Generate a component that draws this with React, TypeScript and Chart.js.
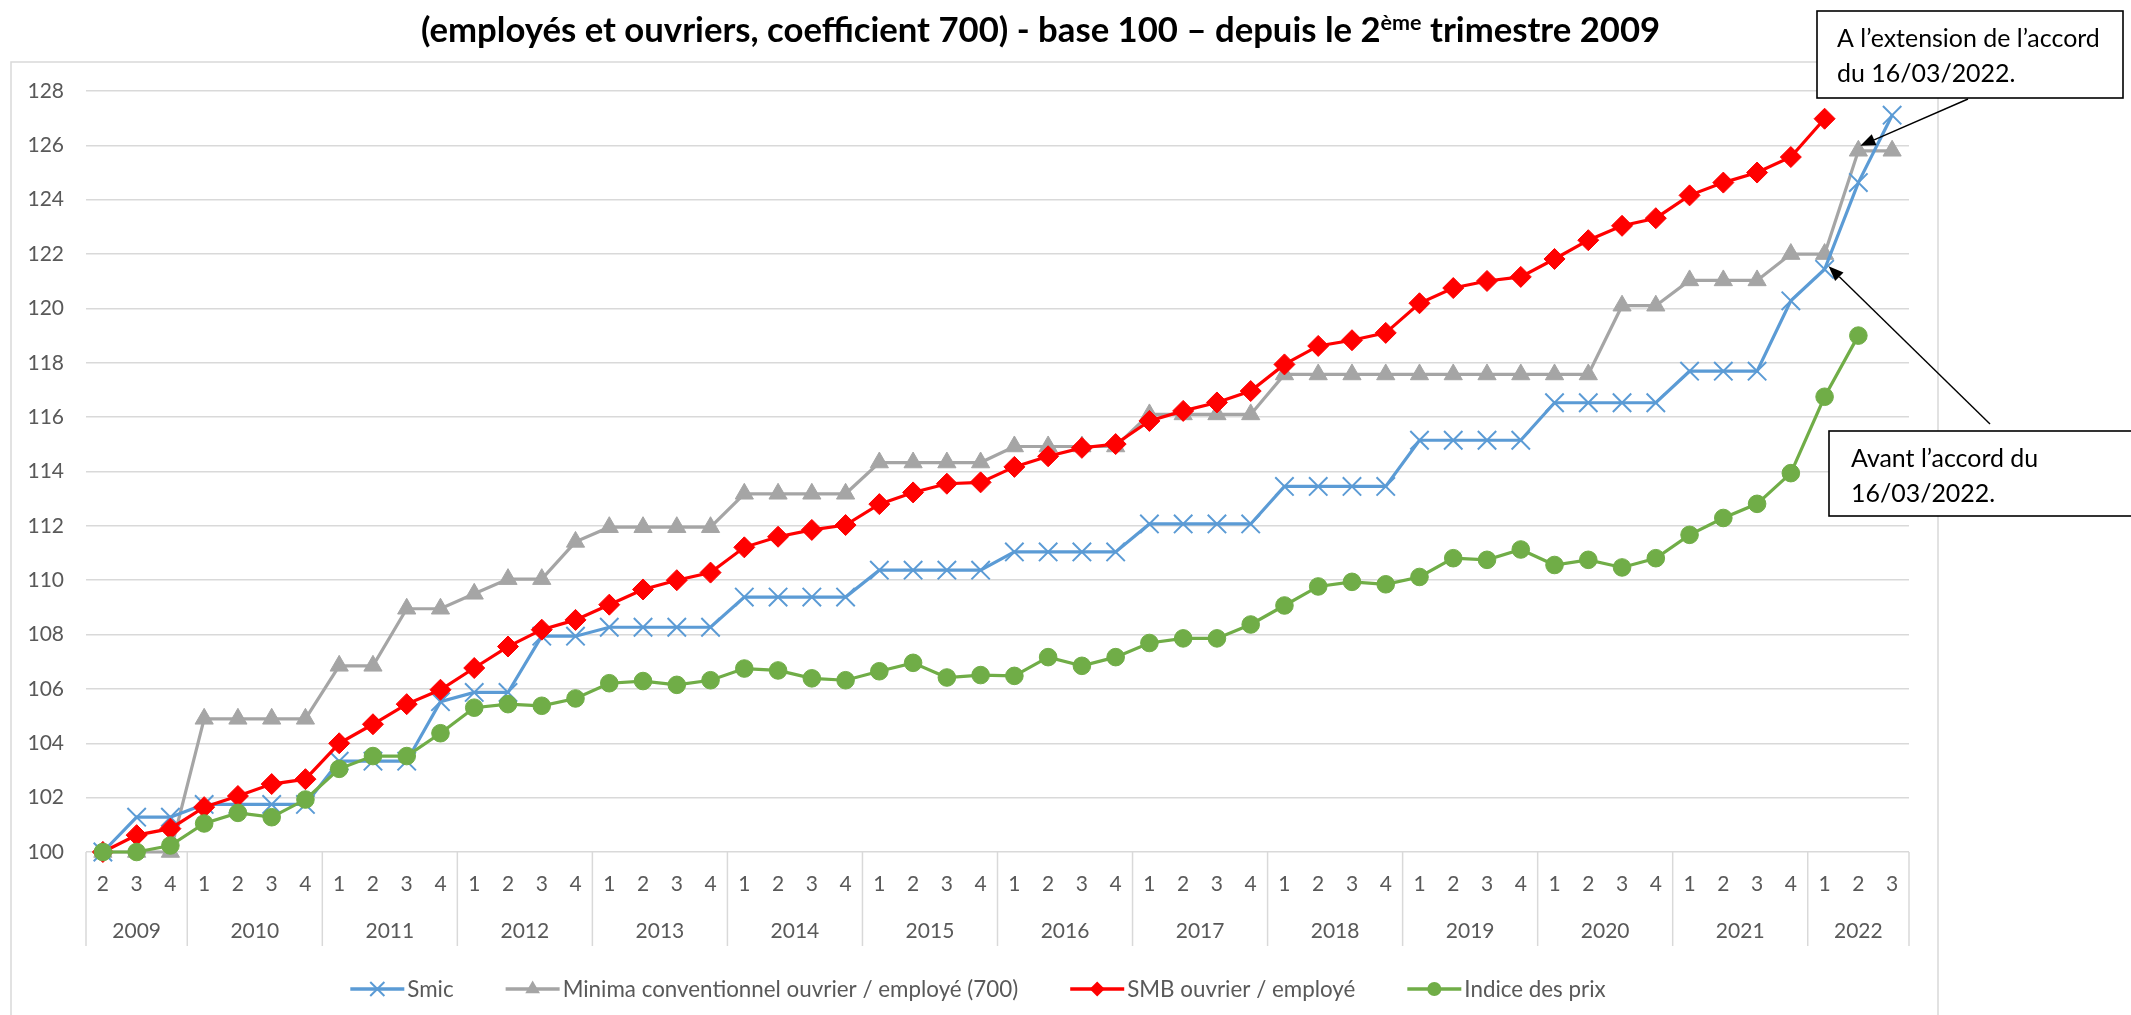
import React, { useEffect, useRef } from 'react';
import { Chart, registerables } from 'chart.js';

Chart.register(...registerables);

// ---------- DATA ----------
const quarterLabels = [
  '2', '3', '4',
  '1', '2', '3', '4',
  '1', '2', '3', '4',
  '1', '2', '3', '4',
  '1', '2', '3', '4',
  '1', '2', '3', '4',
  '1', '2', '3', '4',
  '1', '2', '3', '4',
  '1', '2', '3', '4',
  '1', '2', '3', '4',
  '1', '2', '3', '4',
  '1', '2', '3', '4',
  '1', '2', '3', '4',
  '1', '2', '3',
];
const yearLabels = ['2009', '2010', '2011', '2012', '2013', '2014', '2015', '2016', '2017', '2018', '2019', '2020', '2021', '2022'];
const quartersPerYear = [3, 4, 4, 4, 4, 4, 4, 4, 4, 4, 4, 4, 4, 3];

const smic = [
  100, 101.28, 101.28,
  101.75, 101.75, 101.75, 101.75,
  103.34, 103.34, 103.34, 105.53,
  105.87, 105.87, 107.94, 107.94,
  108.27, 108.27, 108.27, 108.27,
  109.38, 109.38, 109.38, 109.38,
  110.37, 110.37, 110.37, 110.37,
  111.04, 111.04, 111.04, 111.04,
  112.07, 112.07, 112.07, 112.07,
  113.45, 113.45, 113.45, 113.45,
  115.15, 115.15, 115.15, 115.15,
  116.53, 116.53, 116.53, 116.53,
  117.69, 117.69, 117.69, 120.28,
  121.44, 124.63, 127.11,
];
const minima = [
  100, 100, 100,
  104.9, 104.9, 104.9, 104.9,
  106.85, 106.85, 108.95, 108.95,
  109.5, 110.04, 110.04, 111.41,
  111.95, 111.95, 111.95, 111.95,
  113.18, 113.18, 113.18, 113.18,
  114.33, 114.33, 114.33, 114.33,
  114.92, 114.92, 114.92, 114.92,
  116.1, 116.1, 116.1, 116.1,
  117.57, 117.57, 117.57, 117.57,
  117.57, 117.57, 117.57, 117.57,
  117.57, 117.57, 120.1, 120.1,
  121.03, 121.03, 121.03, 122.0,
  122.0, 125.8, 125.8,
];
const smb = [
  100, 100.62, 100.86,
  101.65, 102.06, 102.5, 102.68,
  104.0, 104.7, 105.44, 105.97,
  106.77, 107.56, 108.18, 108.54,
  109.1, 109.66, 110.0, 110.28,
  111.21, 111.6, 111.85, 112.03,
  112.8, 113.23, 113.55, 113.6,
  114.17, 114.56, 114.87, 115.01,
  115.86, 116.23, 116.54, 116.96,
  117.94, 118.62, 118.83, 119.1,
  120.19, 120.75, 121.01, 121.16,
  121.82, 122.51, 123.04, 123.32,
  124.16, 124.63, 125.0, 125.57,
  126.98, null, null,
];
const indicePrix = [
  100, 100.0, 100.24,
  101.05, 101.44, 101.28, 101.93,
  103.06, 103.53, 103.53, 104.37,
  105.31, 105.44, 105.38, 105.65,
  106.21, 106.29, 106.15, 106.32,
  106.75, 106.68, 106.39, 106.32,
  106.65, 106.96, 106.42, 106.51,
  106.48, 107.17, 106.85, 107.17,
  107.69, 107.86, 107.86, 108.37,
  109.07, 109.77, 109.94, 109.85,
  110.12, 110.81, 110.75, 111.13,
  110.56, 110.75, 110.47, 110.81,
  111.67, 112.29, 112.81, 113.94,
  116.75, 119.0, null,
];

const seriesNames = ['Smic', 'Minima conventionnel ouvrier / employé (700)', 'SMB ouvrier / employé', 'Indice des prix'];
const seriesColors = ['#5B9BD5', '#A5A5A5', '#FF0000', '#70AD47'];
const seriesMarkers = ['crossRot', 'triangle', 'rectRot', 'circle'];

const titleMain = '(employés et ouvriers, coefficient 700) - base 100 – depuis le 2';
const titleSup = 'ème';
const titleEnd = ' trimestre 2009';

const noteAfter = ['A l’extension de l’accord', 'du 16/03/2022.'];
const noteBefore = ['Avant l’accord du', '16/03/2022.'];

// ---------- LAYOUT ----------
const W = 2131;
const H = 1015;
const FONT = "Lato, 'Open Sans', sans-serif";
const AXIS_COLOR = '#595959';
const GRID_COLOR = '#D9D9D9';

function fitSize(ctx: CanvasRenderingContext2D, text: string, weight: string, target: number) {
  ctx.font = `${weight} 100px ${FONT}`;
  const w = ctx.measureText(text).width;
  return (target / w) * 100;
}

function drawMarker(ctx: CanvasRenderingContext2D, style: string, x: number, y: number, r: number, color: string) {
  ctx.save();
  ctx.fillStyle = color;
  ctx.strokeStyle = color;
  ctx.beginPath();
  if (style === 'crossRot') {
    const d = r * Math.SQRT1_2;
    ctx.lineWidth = 2;
    ctx.moveTo(x - d, y - d);
    ctx.lineTo(x + d, y + d);
    ctx.moveTo(x + d, y - d);
    ctx.lineTo(x - d, y + d);
    ctx.stroke();
  } else if (style === 'triangle') {
    ctx.moveTo(x, y - r);
    ctx.lineTo(x + r * 0.866, y + r * 0.5);
    ctx.lineTo(x - r * 0.866, y + r * 0.5);
    ctx.closePath();
    ctx.fill();
  } else if (style === 'rectRot') {
    ctx.moveTo(x, y - r);
    ctx.lineTo(x + r, y);
    ctx.lineTo(x, y + r);
    ctx.lineTo(x - r, y);
    ctx.closePath();
    ctx.fill();
  } else {
    ctx.arc(x, y, r, 0, Math.PI * 2);
    ctx.fill();
  }
  ctx.restore();
}

function drawArrow(ctx: CanvasRenderingContext2D, x1: number, y1: number, x2: number, y2: number) {
  const ang = Math.atan2(y2 - y1, x2 - x1);
  const len = 15;
  const hw = 6;
  const bx = x2 - Math.cos(ang) * len;
  const by = y2 - Math.sin(ang) * len;
  ctx.save();
  ctx.strokeStyle = '#000';
  ctx.fillStyle = '#000';
  ctx.lineWidth = 1.4;
  ctx.beginPath();
  ctx.moveTo(x1, y1);
  ctx.lineTo(bx, by);
  ctx.stroke();
  ctx.beginPath();
  ctx.moveTo(x2, y2);
  ctx.lineTo(bx + Math.sin(ang) * hw, by - Math.cos(ang) * hw);
  ctx.lineTo(bx - Math.sin(ang) * hw, by + Math.cos(ang) * hw);
  ctx.closePath();
  ctx.fill();
  ctx.restore();
}

function drawNote(ctx: CanvasRenderingContext2D, lines: string[], bx: number, by: number, bw: number, bh: number, tx: number, baselines: number[], size: number) {
  ctx.save();
  ctx.fillStyle = '#fff';
  ctx.fillRect(bx, by, bw, bh);
  ctx.strokeStyle = '#000';
  ctx.lineWidth = 1.6;
  ctx.strokeRect(bx, by, bw, bh);
  ctx.fillStyle = '#000';
  ctx.font = `normal ${size}px ${FONT}`;
  ctx.textAlign = 'left';
  ctx.textBaseline = 'alphabetic';
  lines.forEach((l, i) => ctx.fillText(l, tx, baselines[i]));
  ctx.restore();
}

const decorPlugin = {
  id: 'decor',
  beforeDraw(chart: any) {
    const ctx: CanvasRenderingContext2D = chart.ctx;
    ctx.save();
    ctx.fillStyle = '#fff';
    ctx.fillRect(0, 0, W, H);
    // chart frame
    ctx.strokeStyle = GRID_COLOR;
    ctx.lineWidth = 1.5;
    ctx.strokeRect(11, 62, 1938 - 11, 1100);
    // title
    ctx.font = `bold 100px ${FONT}`;
    const wMain = ctx.measureText(titleMain).width;
    const wEnd = ctx.measureText(titleEnd).width;
    const wSup = ctx.measureText(titleSup).width * 0.62;
    const target = 1240;
    const S = (target / (wMain + wEnd + wSup)) * 100;
    let x = 1041 - target / 2;
    const base = 42;
    ctx.fillStyle = '#000';
    ctx.textAlign = 'left';
    ctx.textBaseline = 'alphabetic';
    ctx.font = `bold ${S}px ${FONT}`;
    ctx.fillText(titleMain, x, base);
    x += ctx.measureText(titleMain).width;
    ctx.font = `bold ${S * 0.62}px ${FONT}`;
    ctx.fillText(titleSup, x, base - S * 0.36);
    x += ctx.measureText(titleSup).width;
    ctx.font = `bold ${S}px ${FONT}`;
    ctx.fillText(titleEnd, x, base);
    ctx.restore();
  },
  afterDraw(chart: any) {
    const ctx: CanvasRenderingContext2D = chart.ctx;
    const xs = chart.scales.x;
    const ys = chart.scales.y;
    const n = quarterLabels.length;
    const catW = (xs.right - xs.left) / n;
    const bottom = chart.chartArea.bottom;
    ctx.save();
    // year separators & labels
    ctx.strokeStyle = GRID_COLOR;
    ctx.lineWidth = 1.5;
    let idx = 0;
    const bounds: number[] = [0];
    quartersPerYear.forEach((c) => { idx += c; bounds.push(idx); });
    bounds.forEach((b) => {
      const px = b < n ? xs.getPixelForValue(b) - catW / 2 : xs.getPixelForValue(n - 1) + catW / 2;
      ctx.beginPath();
      ctx.moveTo(px, bottom);
      ctx.lineTo(px, 946);
      ctx.stroke();
    });
    ctx.fillStyle = AXIS_COLOR;
    ctx.font = `normal 21px ${FONT}`;
    ctx.textAlign = 'center';
    ctx.textBaseline = 'middle';
    yearLabels.forEach((y, i) => {
      const a = xs.getPixelForValue(bounds[i]) - catW / 2;
      const bEnd = bounds[i + 1];
      const e = bEnd < n ? xs.getPixelForValue(bEnd) - catW / 2 : xs.getPixelForValue(n - 1) + catW / 2;
      ctx.fillText(y, (a + e) / 2, 931);
    });

    // legend
    const legSize = fitSize(ctx, seriesNames[1], 'normal', 456);
    ctx.font = `normal ${legSize}px ${FONT}`;
    const lineLen = 54;
    const gapText = 3;
    const gapItem = 52;
    const widths = seriesNames.map((s) => ctx.measureText(s).width);
    const total = widths.reduce((a, w) => a + lineLen + gapText + w, 0) + gapItem * (seriesNames.length - 1);
    let lx = 978 - total / 2;
    const ly = 989;
    ctx.textAlign = 'left';
    ctx.textBaseline = 'middle';
    seriesNames.forEach((s, i) => {
      ctx.strokeStyle = seriesColors[i];
      ctx.lineWidth = 3.5;
      ctx.beginPath();
      ctx.moveTo(lx, ly);
      ctx.lineTo(lx + lineLen, ly);
      ctx.stroke();
      const mr = [10, 8.5, 7.5, 7][i];
      drawMarker(ctx, seriesMarkers[i], lx + lineLen / 2, ly, mr, seriesColors[i]);
      ctx.fillStyle = AXIS_COLOR;
      ctx.fillText(s, lx + lineLen + gapText, ly + 1);
      lx += lineLen + gapText + widths[i] + gapItem;
    });

    // annotations
    const noteSize = fitSize(ctx, noteAfter[0], 'normal', 263);
    drawNote(ctx, noteAfter, 1817, 11, 306, 87, 1837, [47, 82], noteSize);
    drawNote(ctx, noteBefore, 1829, 431, 320, 85, 1851, [467, 502], noteSize);
    const t1x = xs.getPixelForValue(52) + 2;
    const t1y = ys.getPixelForValue(minima[52]) - 5;
    drawArrow(ctx, 1968, 99, t1x, t1y);
    const t2x = xs.getPixelForValue(51) + 4;
    const t2y = ys.getPixelForValue(smic[51]) - 3;
    drawArrow(ctx, 1990, 424, t2x, t2y);
    ctx.restore();
  },
};

export default function App() {
  const ref = useRef<HTMLCanvasElement | null>(null);
  useEffect(() => {
    if (!ref.current) return;
    const seriesData = [smic, minima, smb, indicePrix];
    const orders = [3, 4, 2, 1];
    const radii = [13, 10.5, 10.5, 8.8];
    const chart = new Chart(ref.current, {
      type: 'line',
      data: {
        labels: quarterLabels,
        datasets: seriesNames.map((name, i) => ({
          label: name,
          data: seriesData[i],
          borderColor: seriesColors[i],
          backgroundColor: seriesColors[i],
          borderWidth: 3.2,
          pointStyle: seriesMarkers[i] as any,
          pointRadius: radii[i],
          pointHoverRadius: radii[i],
          pointBackgroundColor: seriesColors[i],
          pointBorderColor: seriesColors[i],
          pointBorderWidth: i === 0 ? 2 : 1,
          tension: 0,
          clip: false as any,
          order: orders[i],
          spanGaps: false,
        })),
      },
      options: {
        animation: false,
        responsive: false,
        devicePixelRatio: 1,
        layout: { padding: { top: 91, right: 222, bottom: 0, left: 0 } },
        plugins: {
          legend: { display: false },
          tooltip: { enabled: false },
          title: { display: false },
        },
        events: [],
        scales: {
          x: {
            type: 'category',
            offset: true,
            grid: { display: false, drawTicks: false },
            border: { display: false },
            ticks: {
              color: AXIS_COLOR,
              font: { family: FONT, size: 21 },
              padding: 20,
              autoSkip: false,
              maxRotation: 0,
              minRotation: 0,
            },
            afterFit: (s: any) => { s.height = H - 852; },
          },
          y: {
            min: 100,
            max: 128,
            grid: { color: GRID_COLOR, lineWidth: 1.5, drawTicks: false },
            border: { display: false },
            ticks: {
              stepSize: 2,
              color: AXIS_COLOR,
              font: { family: FONT, size: 21 },
              padding: 22,
              callback: (v: any) => String(v),
            },
            afterFit: (s: any) => { s.width = 86; },
          },
        },
      },
      plugins: [decorPlugin],
    });
    return () => chart.destroy();
  }, []);
  return (
    <div style={{ position: 'fixed', left: 0, top: 0, width: W, height: H, background: '#fff' }}>
      <canvas ref={ref} width={W} height={H} style={{ display: 'block', width: W, height: H }} />
    </div>
  );
}
